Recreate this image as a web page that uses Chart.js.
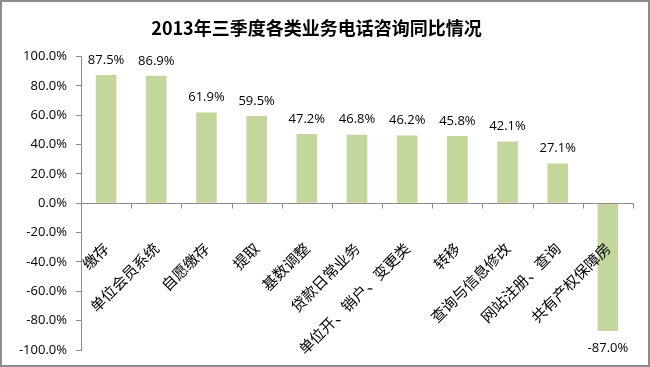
<!DOCTYPE html>
<html>
<head>
<meta charset="utf-8">
<script src="https://cdn.jsdelivr.net/npm/chart.js@4"></script>
<style>
  body { margin: 0; background: #fff; }
  canvas { display: block; }
</style>
</head>
<body>
<canvas id="myChart" width="650" height="367"></canvas>
<script>
var categories = ['缴存', '单位会员系统', '自愿缴存', '提取', '基数调整', '贷款日常业务',
    '单位开、销户、变更类', '转移', '查询与信息修改', '网站注册、查询', '共有产权保障房'];
var values = [87.5, 86.9, 61.9, 59.5, 47.2, 46.8, 46.2, 45.8, 42.1, 27.1, -87.0];
var yTicks = [-100, -80, -60, -40, -20, 0, 20, 40, 60, 80, 100];

var cjk = '"Noto Sans CJK SC", sans-serif';
var latin = '"Open Sans", "Noto Sans", sans-serif';

// frame, zero line, category labels and value labels, Excel-style
var excelBits = {
    id: 'excelBits',
    beforeDraw: function (chart) {
        var c = chart.ctx;
        c.save();
        c.fillStyle = '#fff';
        c.fillRect(0, 0, chart.width, chart.height);
        c.strokeStyle = '#8c8c8c';
        c.lineWidth = 2;
        c.strokeRect(1, 1, chart.width - 2, chart.height - 2);
        c.restore();
    },
    afterDatasetsDraw: function (chart) {
        var c = chart.ctx;
        var x = chart.scales.x, y = chart.scales.y;
        var area = chart.chartArea;
        var zeroY = Math.round(y.getPixelForValue(0)) + 0.5;
        c.save();
        c.strokeStyle = '#8c8c8c';
        c.lineWidth = 1;
        c.beginPath();
        c.moveTo(area.left, zeroY);
        c.lineTo(area.right, zeroY);
        var step = (area.right - area.left) / categories.length;
        for (var i = 0; i <= categories.length; i++) {
            var tx = Math.round(area.left + i * step) + 0.5;
            c.moveTo(tx, zeroY);
            c.lineTo(tx, zeroY + 5);
        }
        c.stroke();

        c.fillStyle = '#000';
        c.font = '15px ' + cjk;
        c.textAlign = 'right';
        c.textBaseline = 'middle';
        categories.forEach(function (name, i) {
            c.save();
            c.translate(x.getPixelForValue(i), zeroY + 42);
            c.rotate(-Math.PI / 4);
            c.fillText(name, 0, 0);
            c.restore();
        });

        c.font = '13px ' + latin;
        c.textAlign = 'center';
        chart.getDatasetMeta(0).data.forEach(function (bar, i) {
            var v = values[i];
            var ly = v >= 0 ? bar.y - 15 : bar.y + 17;
            c.fillText(v.toFixed(1) + '%', bar.x, ly);
        });
        c.restore();
    }
};

var ctx = document.getElementById('myChart');
var myChart = new Chart(ctx, {
    type: 'bar',
    data: {
        labels: categories,
        datasets: [{
            data: values,
            backgroundColor: '#c3d69b',
            borderWidth: 0,
            categoryPercentage: 1,
            barPercentage: 0.41
        }]
    },
    options: {
        responsive: false,
        animation: false,
        devicePixelRatio: 1,
        layout: { padding: { left: 0, right: 17, bottom: 17 } },
        plugins: {
            legend: { display: false },
            tooltip: { enabled: false },
            title: {
                display: true,
                text: '2013年三季度各类业务电话咨询同比情况',
                color: '#000',
                font: { family: cjk, size: 18, weight: 'bold' },
                padding: { top: 17, bottom: 18 }
            }
        },
        scales: {
            x: { display: false },
            y: {
                min: -100,
                max: 100,
                afterBuildTicks: function (s) { s.ticks = yTicks.map(function (v) { return { value: v }; }); },
                afterFit: function (s) { s.width = 81; },
                ticks: {
                    color: '#000',
                    padding: 9,
                    font: { family: latin, size: 13 },
                    callback: function (v) { return v.toFixed(1) + '%'; }
                },
                grid: { drawOnChartArea: false, tickLength: 5, color: '#8c8c8c' },
                border: { color: '#8c8c8c' }
            }
        }
    },
    plugins: [excelBits]
});
window.chart = myChart;
</script>
</body>
</html>
